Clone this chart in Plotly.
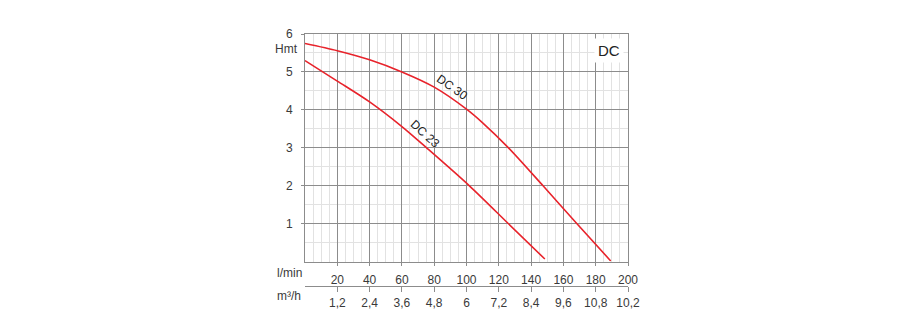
import plotly.graph_objects as go

# Pump performance curves: head (m) versus flow (l/min)
dc30_flow = [0, 20, 40, 60, 80, 100, 110, 126, 147.4, 168.4, 189.3]
dc30_head = [5.75, 5.56, 5.32, 5.0, 4.6, 4.02, 3.66, 3.0, 2.0, 1.0, 0.02]

dc23_flow = [0, 20, 40, 60, 75.3, 101.8, 126, 148.5]
dc23_head = [5.3, 4.76, 4.21, 3.56, 3.0, 2.0, 1.0, 0.07]

# Axis ticks
lmin_ticks = [20, 40, 60, 80, 100, 120, 140, 160, 180, 200]
m3h_ticks = [1.2, 2.4, 3.6, 4.8, 6.0, 7.2, 8.4, 9.6, 10.8, 12.0]
m3h_labels = ["1,2", "2,4", "3,6", "4,8", "6", "7,2", "8,4", "9,6", "10,8", "10,2"]
head_ticks = [1, 2, 3, 4, 5, 6]

RED = "#e8232b"
MAJOR = "#8c8c8c"
MINOR = "#e2e2e2"
TXT = "#3a3a3a"
FONT = "Liberation Sans, Arial, sans-serif"

fig = go.Figure()
for name, xs, ys in (("DC 30", dc30_flow, dc30_head), ("DC 23", dc23_flow, dc23_head)):
    fig.add_trace(go.Scatter(x=xs, y=ys, mode="lines", name=name,
                             line=dict(color=RED, width=1.6, shape="spline",
                                       smoothing=0.8)))

W, H = 900, 331
ml, mr, mt, mb = 305, 272, 34, 45
plot_h = H - mt - mb
y_bottom = 261.7
dom0 = (H - mb - y_bottom) / plot_h

fig.update_layout(
    width=W, height=H,
    margin=dict(l=ml, r=mr, t=mt, b=mb),
    paper_bgcolor="white", plot_bgcolor="white",
    showlegend=False,
    font=dict(family=FONT, size=12, color=TXT),
    xaxis=dict(
        range=[0, 200], tickvals=lmin_ticks, ticks="outside", ticklen=3,
        tickcolor=MAJOR, showline=True, linecolor=MAJOR, linewidth=1, mirror=True,
        showgrid=True, gridcolor=MAJOR, gridwidth=1, zeroline=False,
        minor=dict(dtick=5, showgrid=True, gridcolor=MINOR, gridwidth=1),
        tickfont=dict(size=12, color=TXT), ticklabelstandoff=4,
    ),
    xaxis2=dict(
        range=[0, 12], overlaying="x", anchor="free", position=0, side="bottom",
        tickvals=m3h_ticks, ticktext=m3h_labels, ticks="outside", ticklen=5,
        tickcolor=MAJOR, showline=True, linecolor=MAJOR, linewidth=1,
        showgrid=False, zeroline=False,
        tickfont=dict(size=12, color=TXT), ticklabelstandoff=1,
    ),
    yaxis=dict(
        domain=[dom0, 1], range=[0, 6], tickvals=head_ticks, ticks="outside",
        ticklen=3, tickcolor=MAJOR, showline=True, linecolor=MAJOR, linewidth=1,
        mirror=True, showgrid=True, gridcolor=MAJOR, gridwidth=1, zeroline=False,
        minor=dict(dtick=0.5, showgrid=True, gridcolor=MINOR, gridwidth=1),
        tickfont=dict(size=12, color=TXT), ticklabelstandoff=6,
    ),
)

# Invisible trace so the m3/h axis is drawn
fig.add_trace(go.Scatter(x=[0, 12], y=[0, 0], xaxis="x2", yaxis="y",
                         mode="lines", line=dict(width=0), hoverinfo="skip",
                         showlegend=False))

# Axis titles
fig.add_annotation(text="Hmt", xref="paper", yref="y", x=-0.056, y=5.6,
                   showarrow=False, xanchor="center", font=dict(size=12, color=TXT))
fig.add_annotation(text="l/min", xref="paper", yref="paper", x=-0.047,
                   y=(H - mb - 273.3) / plot_h, showarrow=False,
                   xanchor="center", yanchor="middle", font=dict(size=12, color=TXT))
fig.add_annotation(text="m³/h", xref="paper", yref="paper", x=-0.05,
                   y=(H - mb - 296) / plot_h, showarrow=False,
                   xanchor="center", yanchor="middle", font=dict(size=12, color=TXT))

# Curve labels
fig.add_annotation(text="DC 30", x=90.8, y=4.6, showarrow=False, textangle=35,
                   font=dict(size=12, color="#222"))
fig.add_annotation(text="DC 23", x=74.5, y=3.37, showarrow=False, textangle=42,
                   font=dict(size=12, color="#222"))

# Series name box
fig.add_annotation(text="DC", x=188, y=5.56, showarrow=False, bgcolor="white",
                   borderpad=3, font=dict(size=15, color="#222"))

fig.write_html("out.html")
